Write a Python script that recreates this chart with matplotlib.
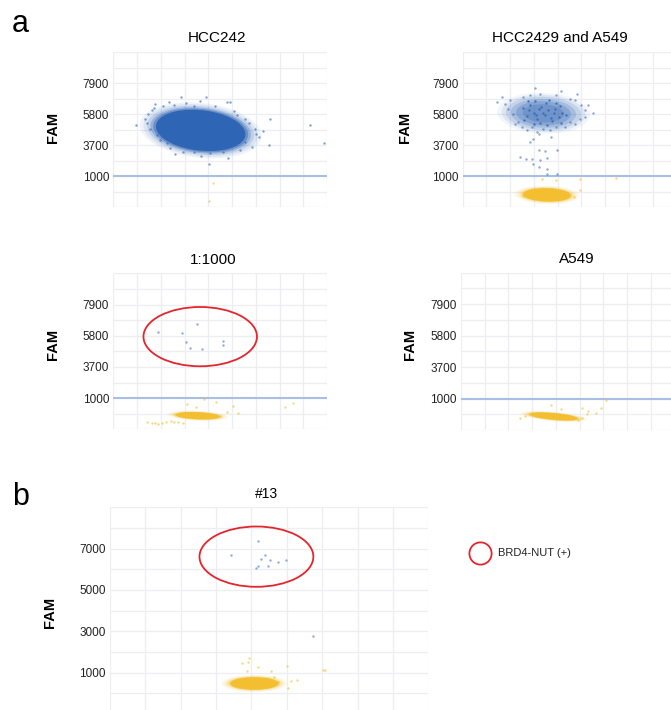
import matplotlib.pyplot as plt
from matplotlib.lines import Line2D
from matplotlib.patches import Ellipse

plt.rcParams["font.family"] = ["Liberation Sans", "DejaVu Sans"]

BLUE = "#2f65b5"
PALE_BLUE = "#8fabe0"
YELLOW = "#f3bf30"
RED = "#e3262d"
GRID = "#eceef2"
THRESH = "#aabde4"

# panel a: amplitude axis shown in gridline units, labelled every second line
A_TICK_POS = [2, 4, 6, 8]
A_TICK_LABELS = ["1000", "3700", "5800", "7900"]
A_THRESHOLD = 2
PANEL_TITLES = ["HCC242", "HCC2429 and A549", "1:1000", "A549"]

# panel b: real FAM amplitude
B_TICKS = [1000, 3000, 5000, 7000]
B_TITLE = "#13"

# dense droplet clouds: cx, cy, width, height, angle
HCC242_BLUE_CLOUD = [3.68, 4.95, 3.95, 2.65, -14]
HCC2429_BLUE_CLOUD = [3.40, 6.05, 2.9, 1.95, -5]
HCC2429_YELLOW_CLOUD = [3.55, 0.80, 2.0, 0.85, -3]
DIL_YELLOW_CLOUD = [3.55, 0.87, 1.85, 0.45, -4]
A549_YELLOW_CLOUD = [3.90, 0.86, 2.05, 0.42, -8]
B_YELLOW_CLOUD = [4.08, 470, 1.35, 600, 0]

# scattered droplets
HCC242_BLUE_X = [0.97, 1.34, 1.48, 1.62, 1.76, 2.36, 2.86, 3.66, 3.91, 4.78, 4.90,
                 5.21, 5.56, 5.98, 6.30, 6.12, 5.84, 5.35, 4.85, 4.08, 3.38, 2.60,
                 2.25, 1.83, 1.55, 6.58, 8.30, 8.86, 6.54, 4.05, 1.40, 1.70, 2.10,
                 2.55, 3.05, 3.40, 4.30, 5.10, 5.70, 6.00, 5.55, 4.60, 3.70, 2.95,
                 2.40, 1.95]
HCC242_BLUE_Y = [5.29, 5.71, 6.03, 6.25, 6.68, 6.78, 7.10, 6.83, 7.10, 6.78, 6.78,
                 5.93, 5.71, 5.07, 4.90, 4.53, 3.89, 3.68, 3.19, 3.47, 3.57, 3.40,
                 4.11, 4.64, 5.07, 5.71, 5.29, 4.15, 4.04, 2.78, 5.45, 6.40, 6.55,
                 6.60, 6.70, 6.55, 6.50, 6.20, 5.40, 4.70, 4.20, 3.55, 3.30, 3.55,
                 3.85, 4.35]
HCC242_YELLOW_X = [4.19, 4.01]
HCC242_YELLOW_Y = [1.58, 0.43]

HCC2429_BLUE_X = [1.43, 1.64, 1.78, 1.92, 1.99, 2.13, 2.20, 2.34, 2.48, 2.69, 2.90,
                  3.11, 3.39, 3.67, 3.95, 4.30, 4.51, 4.72, 4.93, 5.14, 5.14, 5.00,
                  4.72, 4.51, 3.95, 3.25, 2.83, 2.55, 4.16, 3.04, 4.82, 5.49, 5.28,
                  2.83, 2.97, 3.22, 3.71, 3.99, 3.22, 3.47, 2.43, 2.65, 2.93, 3.26,
                  3.54, 2.97, 3.22, 3.54, 3.54, 3.99]
HCC2429_BLUE_Y = [6.78, 7.11, 6.64, 6.36, 6.89, 6.03, 5.39, 5.50, 5.18, 4.97, 5.18,
                  4.86, 5.07, 4.97, 5.18, 5.18, 5.50, 5.39, 5.71, 5.82, 6.25, 6.57,
                  6.89, 7.00, 7.21, 7.32, 7.21, 7.11, 7.49, 7.71, 7.32, 6.04, 6.57,
                  4.21, 4.43, 4.75, 4.53, 3.68, 3.68, 3.64, 3.21, 3.10, 3.08, 3.04,
                  3.15, 2.78, 2.57, 2.44, 2.14, 2.12]
# darker speckle inside the HCC2429 cloud
HCC2429_CORE_X = [2.55, 2.70, 2.85, 3.00, 3.15, 3.30, 3.45, 3.60, 3.75, 3.90, 4.05,
                  4.20, 2.60, 2.80, 3.05, 3.25, 3.50, 3.70, 3.95, 4.15, 4.35, 2.75,
                  3.00, 3.20, 3.40, 3.65, 3.85, 4.10, 3.10, 3.55]
HCC2429_CORE_Y = [6.40, 5.90, 6.60, 6.10, 5.70, 6.45, 5.95, 6.25, 5.55, 6.35, 5.80,
                  6.10, 5.60, 6.25, 6.85, 5.45, 6.70, 5.75, 6.70, 5.40, 5.95, 6.85,
                  5.35, 6.35, 6.05, 6.90, 6.10, 6.55, 5.95, 5.30]
HCC2429_YELLOW_X = [4.93, 6.47, 4.96, 3.32, 3.95, 2.55, 4.70]
HCC2429_YELLOW_Y = [1.82, 1.86, 1.11, 1.80, 1.75, 0.73, 0.64]

DIL_BLUE_X = [1.90, 2.88, 3.52, 3.07, 3.24, 3.73, 4.60, 4.60]
DIL_BLUE_Y = [6.22, 6.15, 6.75, 5.58, 5.23, 5.15, 5.66, 5.38]
DIL_YELLOW_X = [1.41, 1.62, 1.76, 1.90, 2.04, 2.22, 2.42, 2.56, 2.74, 2.95,
                3.10, 3.49, 3.83, 4.33, 5.06, 5.27, 4.78, 7.24, 7.55, 4.50]
DIL_YELLOW_Y = [0.45, 0.42, 0.38, 0.34, 0.42, 0.47, 0.51, 0.47, 0.49, 0.42,
                1.62, 1.45, 1.94, 1.73, 1.51, 1.03, 1.09, 1.45, 1.71, 0.85]
DIL_CIRCLE = [3.66, 5.94, 4.78, 3.80]

A549_YELLOW_X = [3.77, 4.23, 5.11, 5.34, 5.91, 6.12, 5.31, 5.11, 5.70, 2.48, 2.69, 4.93]
A549_YELLOW_Y = [1.59, 1.31, 1.38, 1.20, 1.38, 1.91, 1.00, 0.74, 1.06, 0.78, 0.91, 0.64]

B_BLUE_X = [4.19, 3.42, 4.38, 4.26, 4.52, 4.74, 4.97, 4.47, 4.19, 4.12, 5.74]
B_BLUE_Y = [7380, 6700, 6710, 6500, 6445, 6367, 6445, 6135, 6153, 6075, 2784]
B_YELLOW_X = [3.94, 3.90, 3.72, 4.19, 4.55, 5.01, 6.01, 6.08, 5.29, 5.13, 5.03,
              4.64, 3.88, 4.76]
B_YELLOW_Y = [1700, 1505, 1457, 1243, 1083, 1292, 1131, 1100, 645, 596, 240,
              806, 1049, 563]
B_CIRCLE = [4.14, 6610, 3.22, 2920]
LEGEND_LABEL = "BRD4-NUT (+)"

# (scale, alpha) of the stacked ellipses that give a cloud its soft edge
SOLID = [(1.40, 0.06), (1.32, 0.08), (1.24, 0.10), (1.17, 0.14), (1.10, 0.22),
         (1.05, 0.35), (1.0, 1.0)]
WIDE = [(1.32, 0.07), (1.24, 0.10), (1.16, 0.16), (1.09, 0.28), (1.03, 0.45),
        (0.97, 1.0)]
SPECKLE = [(1.35, 0.06), (1.22, 0.10), (1.10, 0.14), (0.95, 0.20), (0.80, 0.25),
           (0.60, 0.25)]


def draw_cloud(ax, cloud, color, layers):
    cx, cy, w, h, ang = cloud
    for scale, alpha in layers:
        ax.add_patch(Ellipse((cx, cy), w * scale, h * scale, angle=ang,
                             fc=color, ec="none", alpha=alpha, zorder=3))


def style_axes(ax, xlim, ylim, minor, major, labels):
    ax.set_xlim(*xlim)
    ax.set_ylim(*ylim)
    ax.set_xticks(range(0, 10))
    ax.set_xticklabels([])
    ax.set_yticks(minor, minor=True)
    ax.set_yticks(major)
    ax.set_yticklabels(labels)
    ax.grid(True, which="both", color=GRID, lw=0.9)
    ax.set_axisbelow(True)
    ax.tick_params(which="both", length=0, labelsize=8.5, colors="#222222", pad=3)
    for s in ax.spines.values():
        s.set_visible(False)


fig = plt.figure(figsize=(6.71, 7.10), dpi=100)

positions = [
    [113.3, 52, 213.7, 155.3],
    [462.7, 52, 213.7, 155.3],
    [113.3, 273.3, 213.7, 156],
    [461, 272.7, 213.7, 157.3],
]
title_x = [0.484, 0.455, 0.468, 0.544]
label_x = [-0.249, -0.237, -0.249, -0.204]
label_y = [0.514, 0.514, 0.547, 0.547]

axes = []
for i, (x0, y0, w, h) in enumerate(positions):
    ax = fig.add_axes([x0 / 671, 1 - (y0 + h) / 710, w / 671, h / 710])
    style_axes(ax, (0, 9), (0, 10), range(0, 11), A_TICK_POS, A_TICK_LABELS)
    ax.axhline(A_THRESHOLD, color=THRESH, lw=1.5, zorder=2)
    ax.set_title(PANEL_TITLES[i], fontsize=11, x=title_x[i], pad=7)
    ax.set_ylabel("FAM", fontsize=10.5, fontweight="bold")
    ax.yaxis.set_label_coords(label_x[i], label_y[i])
    axes.append(ax)

pt = dict(s=3, linewidths=0, zorder=4)

ax = axes[0]
draw_cloud(ax, HCC242_BLUE_CLOUD, BLUE, WIDE)
ax.scatter(HCC242_BLUE_X, HCC242_BLUE_Y, color=BLUE, alpha=0.6, **pt)
ax.scatter(HCC242_YELLOW_X, HCC242_YELLOW_Y, color=YELLOW, alpha=0.6, **pt)

ax = axes[1]
draw_cloud(ax, HCC2429_BLUE_CLOUD, BLUE, SPECKLE)
draw_cloud(ax, HCC2429_YELLOW_CLOUD, YELLOW, SOLID)
ax.scatter(HCC2429_BLUE_X, HCC2429_BLUE_Y, color=BLUE, alpha=0.55, **pt)
ax.scatter(HCC2429_CORE_X, HCC2429_CORE_Y, color=BLUE, alpha=0.8, **pt)
ax.scatter(HCC2429_YELLOW_X, HCC2429_YELLOW_Y, color=YELLOW, alpha=0.6, **pt)

ax = axes[2]
draw_cloud(ax, DIL_YELLOW_CLOUD, YELLOW, SOLID)
ax.scatter(DIL_BLUE_X, DIL_BLUE_Y, color=PALE_BLUE, **pt)
ax.scatter(DIL_YELLOW_X, DIL_YELLOW_Y, color=YELLOW, alpha=0.6, **pt)
cx, cy, w, h = DIL_CIRCLE
ax.add_patch(Ellipse((cx, cy), w, h, fc="none", ec=RED, lw=1.3, zorder=5))

ax = axes[3]
draw_cloud(ax, A549_YELLOW_CLOUD, YELLOW, SOLID)
ax.scatter(A549_YELLOW_X, A549_YELLOW_Y, color=YELLOW, alpha=0.6, **pt)

# panel b
axb = fig.add_axes([110 / 671, 1 - 713.8 / 710, 318.3 / 671, 206.5 / 710])
style_axes(axb, (0, 9), (-1000, 9000), range(-1000, 9001, 1000), B_TICKS,
           [str(v) for v in B_TICKS])
axb.set_title(B_TITLE, fontsize=10, x=0.492, pad=7)
axb.set_ylabel("FAM", fontsize=10.5, fontweight="bold")
axb.yaxis.set_label_coords(-0.167, 0.49)
draw_cloud(axb, B_YELLOW_CLOUD, YELLOW, SOLID)
axb.scatter(B_BLUE_X, B_BLUE_Y, color=PALE_BLUE, **pt)
axb.scatter(B_YELLOW_X, B_YELLOW_Y, color=YELLOW, alpha=0.6, **pt)
cx, cy, w, h = B_CIRCLE
axb.add_patch(Ellipse((cx, cy), w, h, fc="none", ec=RED, lw=1.3, zorder=5))

# legend
fig.add_artist(Line2D([480 / 671], [1 - 553 / 710], marker="o", ms=16, mfc="none",
                      mec=RED, mew=1.3, ls="none", transform=fig.transFigure))
fig.text(498 / 671, 1 - 553 / 710, LEGEND_LABEL, fontsize=8, va="center",
         color="#222222")

fig.text(12 / 671, 1 - 32 / 710, "a", fontsize=22)
fig.text(12 / 671, 1 - 505 / 710, "b", fontsize=22)

fig.savefig("out.png", dpi=100)
